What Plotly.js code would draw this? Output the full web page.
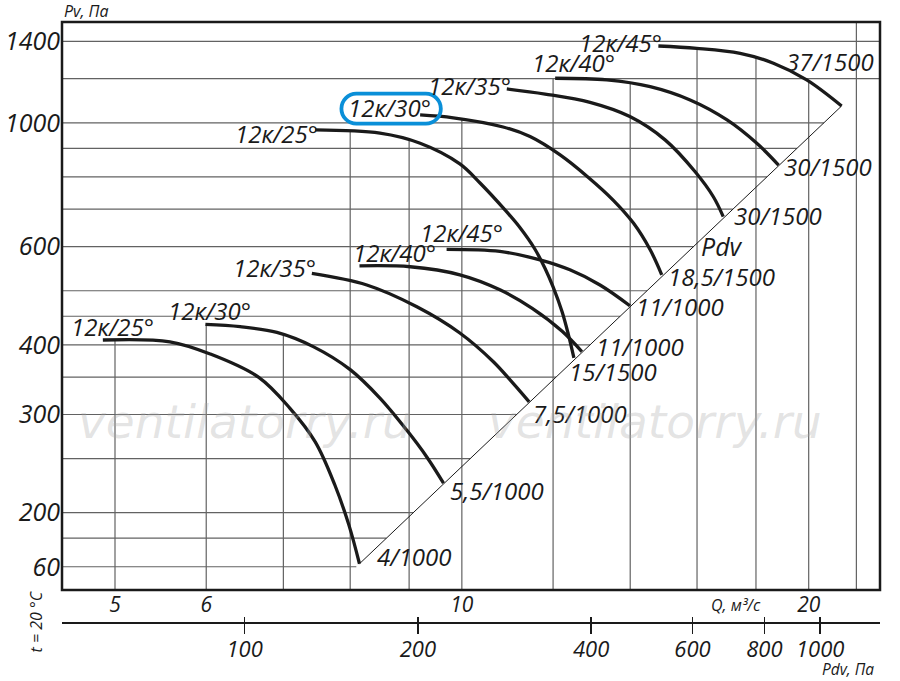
<!DOCTYPE html>
<html><head><meta charset="utf-8">
<script src="https://cdn.plot.ly/plotly-3.0.1.min.js"></script>
<style>html,body{margin:0;padding:0;background:#fff;}#chart{width:900px;height:681px;}</style>
</head><body><div id="chart"></div>
<script>
// ---- Data (Q in m3/s, Pv in Pa) ----
const qLow25 = [4.88, 5.58, 6.05, 6.66, 7.09, 7.46, 7.76, 7.98, 8.15];
const pLow25 = [408, 405, 385, 350, 308, 268, 224, 190, 162];
const qLow30 = [5.99, 6.42, 6.91, 7.43, 8.00, 8.49, 8.96, 9.32, 9.64];
const pLow30 = [435, 431, 421, 397, 361, 321, 281, 252, 226];
const qLow35 = [7.41, 8.27, 9.14, 9.96, 10.65, 11.08, 11.44];
const pLow35 = [537, 512, 468, 420, 373, 341, 316];
const qLow40 = [8.15, 9.02, 9.96, 10.79, 11.51, 12.22, 12.71];
const pLow40 = [554, 552, 534, 502, 465, 423, 389];
const qLow45 = [9.70, 10.79, 11.69, 12.41, 13.18, 13.99];
const pLow45 = [593, 588, 568, 545, 512, 470];
const qHigh25 = [7.46, 8.49, 9.20, 9.96, 10.37, 10.90, 11.23, 11.57, 11.81, 12.00, 12.22, 12.37, 12.51];
const pHigh25 = [971, 958, 919, 844, 780, 698, 649, 594, 548, 508, 458, 418, 379];
const qHigh30 = [9.20, 9.83, 10.86, 11.46, 12.17, 12.87, 13.53, 14.09, 14.57, 14.91];
const pHigh30 = [1033, 1021, 983, 945, 876, 799, 727, 661, 592, 534];
const qHigh35 = [10.94, 11.81, 12.92, 13.99, 15.01, 15.94, 16.53, 16.86];
const pHigh35 = [1150, 1126, 1088, 1026, 932, 817, 737, 679];
const qHigh40 = [12.05, 13.36, 14.57, 15.78, 16.99, 18.03, 18.83];
const pHigh40 = [1202, 1194, 1161, 1099, 1012, 919, 840];
const qHigh45 = [14.81, 15.99, 17.44, 18.64, 19.92, 21.36];
const pHigh45 = [1373, 1360, 1332, 1279, 1194, 1072];
const qPdv = [8.15, 21.36];
const pPdv = [162, 1072];

const startLabels = ['12к/25°','12к/30°','12к/35°','12к/40°','12к/45°','12к/25°','12к/30°','12к/35°','12к/40°','12к/45°'];
const endLabels = ['4/1000','5,5/1000','7,5/1000','11/1000','11/1000','15/1500','18,5/1500','30/1500','30/1500','37/1500'];

const qTicks = [5, 6, 10, 20];
const pvTicks = [160, 200, 300, 400, 600, 1000, 1400];
const pvTickText = ['60', '200', '300', '400', '600', '1000', '1400'];
const pdvTicks = [100, 200, 400, 600, 800, 1000];
const qGrid = [5, 6, 7, 8, 9, 10, 12, 14, 16, 18, 20, 22];
const pvGrid = [160, 180, 200, 250, 300, 350, 400, 450, 500, 600, 700, 800, 900, 1000, 1200, 1400];

// ---- Layout constants ----
const W = 900, H = 681, ML = 62, MR = 20, MT = 22, MB = 58;
const PLOT_BOTTOM = 590;
const XR = [0.65297, 1.36292];
const YR = [2.16245, 3.18073];
const PR = [1.6827, 3.1040];
const paperH = H - MT - MB;
const YD0 = (H - MB - PLOT_BOTTOM) / paperH;
const FONT = '"Open Sans", "Liberation Sans", Arial, sans-serif';
const INK = '#1a1a1a';

// label placement (pixel offsets, +y = down)
const startOffsets = [[10,-13],[4,-14],[-37,-6],[35,-13],[15,-17],[-39,4],[-31,-7],[-37,-3],[18,-16],[-38,-3.5]];
const endOffsets = [[16,-7],[4,7],[2,12],[12,-5],[4,1],[-7,14],[4,2],[9,-1.5],[3,1],[-58,-44]];

const curveQ = [qLow25, qLow30, qLow35, qLow40, qLow45, qHigh25, qHigh30, qHigh35, qHigh40, qHigh45];
const curveP = [pLow25, pLow30, pLow35, pLow40, pLow45, pHigh25, pHigh30, pHigh35, pHigh40, pHigh45];

const L = Math.log10;
function paperX(px){ return (px - ML) / (W - ML - MR); }
function paperY(py){ return (H - MB - py) / paperH; }
function dataPaperX(q){ return (L(q) - XR[0]) / (XR[1] - XR[0]); }
function dataPaperY(p){ return YD0 + (1 - YD0) * (L(p) - YR[0]) / (YR[1] - YR[0]); }

function curveAt(q, Q, P){
  if (q < Q[0] / 1.01 || q > Q[Q.length - 1]) return null;
  if (q <= Q[0]) return P[0];
  for (let i = 0; i < Q.length - 1; i++) {
    if (q <= Q[i + 1]) {
      const t = (L(q) - L(Q[i])) / (L(Q[i + 1]) - L(Q[i]));
      return Math.pow(10, L(P[i]) + t * (L(P[i + 1]) - L(P[i])));
    }
  }
  return null;
}

const traces = [];
// vertical grid lines: bottom to the upper envelope of the curves
const vx = [], vy = [];
qGrid.forEach(q => {
  let top = null;
  curveQ.forEach((Q, i) => { const v = curveAt(q, Q, curveP[i]); if (v !== null && (top === null || v > top)) top = v; });
  if (top === null) top = Math.pow(10, YR[1]);
  vx.push(q, q, null); vy.push(Math.pow(10, YR[0]), top, null);
});
// horizontal grid lines: left edge to the Pdv line
const slope = (L(pPdv[1]) - L(pPdv[0])) / (L(qPdv[1]) - L(qPdv[0]));
const hx = [], hy = [];
pvGrid.forEach(p => {
  let qEnd = p > pPdv[1] ? Math.pow(10, XR[1]) : Math.pow(10, L(qPdv[0]) + (L(p) - L(pPdv[0])) / slope);
  hx.push(Math.pow(10, XR[0]), qEnd, null); hy.push(p, p, null);
});
traces.push({x: vx, y: vy, mode: 'lines', line: {color: '#626262', width: 1.2}, hoverinfo: 'skip', showlegend: false});
traces.push({x: hx, y: hy, mode: 'lines', line: {color: '#626262', width: 1.2}, hoverinfo: 'skip', showlegend: false});
traces.push({x: qPdv, y: pPdv, mode: 'lines', line: {color: INK, width: 1}, hoverinfo: 'skip', showlegend: false});
curveQ.forEach((Q, i) => {
  traces.push({x: Q, y: curveP[i], mode: 'lines', line: {color: INK, width: 3.3, shape: 'spline', smoothing: 1}, hoverinfo: 'skip', showlegend: false});
});
// carriers for the Pdv axes
traces.push({x: pdvTicks, y: pdvTicks.map(() => pvTicks[1]), xaxis: 'x2', mode: 'lines', opacity: 0, hoverinfo: 'skip', showlegend: false});
traces.push({x: pdvTicks, y: pdvTicks.map(() => pvTicks[1]), xaxis: 'x3', mode: 'lines', opacity: 0, hoverinfo: 'skip', showlegend: false});

const lblFont = {family: FONT, size: 24, color: INK, style: 'italic'};
const ann = [];
curveQ.forEach((Q, i) => {
  const P = curveP[i];
  ann.push({xref: 'x', yref: 'y', x: L(Q[0]), y: L(P[0]), text: startLabels[i], showarrow: false,
    xanchor: 'center', yanchor: 'middle', xshift: startOffsets[i][0], yshift: -startOffsets[i][1], font: lblFont});
  const n = Q.length - 1;
  ann.push({xref: 'x', yref: 'y', x: L(Q[n]), y: L(P[n]), text: endLabels[i], showarrow: false,
    xanchor: 'left', yanchor: 'middle', xshift: endOffsets[i][0], yshift: -endOffsets[i][1], font: lblFont});
});
const small = {family: FONT, size: 16, color: INK, style: 'italic'};
ann.push({xref: 'paper', yref: 'paper', x: paperX(721.7), y: paperY(246), text: 'Pdv', showarrow: false, xanchor: 'center', yanchor: 'middle', font: {family: FONT, size: 25, color: INK, style: 'italic'}});
ann.push({xref: 'paper', yref: 'paper', x: 0, y: paperY(11), text: 'Pv, Па', showarrow: false, xanchor: 'left', yanchor: 'middle', font: small});
ann.push({xref: 'paper', yref: 'paper', x: paperX(736), y: paperY(605), text: 'Q, м³/с', showarrow: false, xanchor: 'center', yanchor: 'middle', font: small});
ann.push({xref: 'paper', yref: 'paper', x: paperX(847.5), y: paperY(669), text: 'Pdv, Па', showarrow: false, xanchor: 'center', yanchor: 'middle', font: {family: FONT, size: 15.5, color: INK, style: 'italic'}});
ann.push({xref: 'paper', yref: 'paper', x: paperX(35), y: paperY(621.5), text: 't = 20 °C', textangle: -90, showarrow: false, xanchor: 'center', yanchor: 'middle', font: small});
[245, 655].forEach(cx => {
  ann.push({xref: 'paper', yref: 'paper', x: paperX(cx), y: paperY(421), text: 'ventilatorry.ru', showarrow: false, xanchor: 'center', yanchor: 'middle',
    font: {family: '"DejaVu Sans", sans-serif', size: 47, color: 'rgba(170,170,170,0.33)', style: 'italic'}});
});

// highlight box round the upper 12к/30° label
const gx = dataPaperX(qHigh30[0]), gy = dataPaperY(pHigh30[0]);
const gpx = ML + gx * (W - ML - MR), gpy = H - MB - gy * paperH;
const boxPath = 'M -34.7,-15 L 34.7,-15 C 43,-15 49.7,-8.3 49.7,0 C 49.7,8.3 43,15 34.7,15 L -34.7,15 C -43,15 -49.7,8.3 -49.7,0 C -49.7,-8.3 -43,-15 -34.7,-15 Z';
const shapes = [
  {type: 'rect', xref: 'x domain', yref: 'y domain', x0: 0, x1: 1, y0: 0, y1: 1, line: {color: INK, width: 2.5}, layer: 'above'},
  {type: 'path', xref: 'paper', yref: 'paper', xsizemode: 'pixel', ysizemode: 'pixel',
   xanchor: paperX(gpx - 29), yanchor: paperY(gpy - 6.3), path: boxPath, line: {color: '#0a8fd8', width: 3.8}, layer: 'above'}
];

const layout = {
  width: W, height: H, margin: {l: ML, r: MR, t: MT, b: MB, pad: 0},
  paper_bgcolor: '#fff', plot_bgcolor: '#fff', showlegend: false,
  xaxis: {type: 'log', range: XR, domain: [0, 1], anchor: 'y', showgrid: false, zeroline: false, showline: false, ticks: '',
    tickmode: 'array', tickvals: qTicks, ticktext: qTicks.map(String), tickfont: {family: FONT, size: 21, color: INK, style: 'italic'}, fixedrange: true},
  yaxis: {type: 'log', range: YR, domain: [YD0, 1], anchor: 'x', showgrid: false, zeroline: false, showline: false, ticks: '',
    tickmode: 'array', tickvals: pvTicks, ticktext: pvTickText, ticklabelstandoff: 1, tickfont: {family: FONT, size: 25, color: INK, style: 'italic'}, fixedrange: true},
  xaxis2: {type: 'log', range: PR, overlaying: 'x', anchor: 'free', position: 0, side: 'bottom', showgrid: false, zeroline: false,
    showline: true, linecolor: INK, linewidth: 2, ticks: 'outside', ticklen: 10, tickwidth: 1.3, tickcolor: INK, ticklabelstandoff: -3,
    tickmode: 'array', tickvals: pdvTicks, ticktext: pdvTicks.map(String), tickfont: {family: FONT, size: 22, color: INK, style: 'italic'}, fixedrange: true},
  xaxis3: {type: 'log', range: PR, overlaying: 'x', anchor: 'free', position: 0, side: 'bottom', showgrid: false, zeroline: false,
    showline: false, ticks: 'inside', ticklen: 6, tickwidth: 1.3, tickcolor: INK, tickmode: 'array', tickvals: pdvTicks, showticklabels: false, fixedrange: true},
  annotations: ann,
  shapes: shapes
};
Plotly.newPlot('chart', traces, layout, {staticPlot: true, displayModeBar: false});
</script>
</body></html>
